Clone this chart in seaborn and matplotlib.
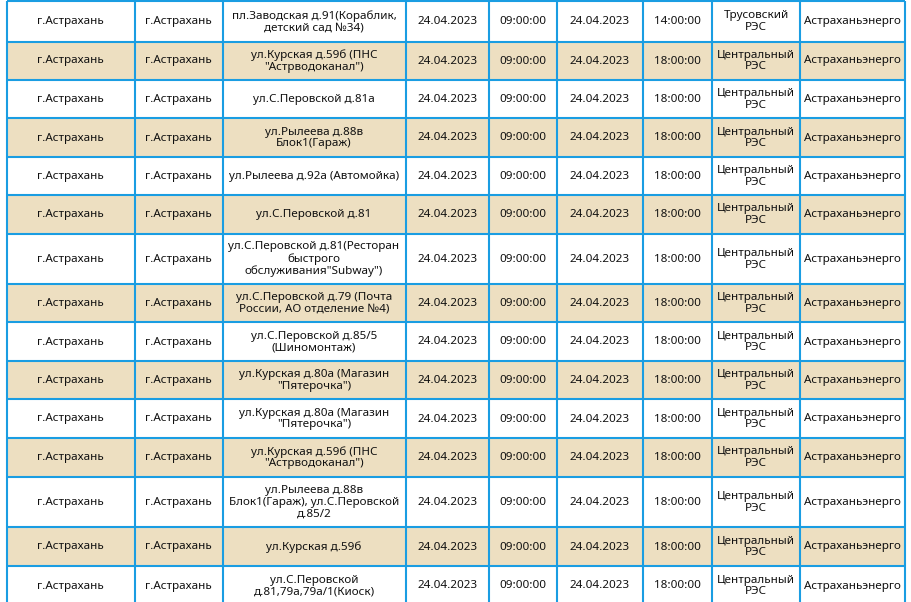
import matplotlib
matplotlib.use("Agg")
import matplotlib.pyplot as plt
from matplotlib.patches import Rectangle
import seaborn as sns

# table contents
regions = ["г.Астрахань"] * 15
cities = ["г.Астрахань"] * 15
addresses = [
    "пл.Заводская д.91(Кораблик,\nдетский сад №34)",
    "ул.Курская д.59б (ПНС\n\"Астрводоканал\")",
    "ул.С.Перовской д.81а",
    "ул.Рылеева д.88в\nБлок1(Гараж)",
    "ул.Рылеева д.92а (Автомойка)",
    "ул.С.Перовской д.81",
    "ул.С.Перовской д.81(Ресторан\nбыстрого\nобслуживания\"Subway\")",
    "ул.С.Перовской д.79 (Почта\nРоссии, АО отделение №4)",
    "ул.С.Перовской д.85/5\n(Шиномонтаж)",
    "ул.Курская д.80а (Магазин\n\"Пятерочка\")",
    "ул.Курская д.80а (Магазин\n\"Пятерочка\")",
    "ул.Курская д.59б (ПНС\n\"Астрводоканал\")",
    "ул.Рылеева д.88в\nБлок1(Гараж), ул.С.Перовской\nд.85/2",
    "ул.Курская д.59б",
    "ул.С.Перовской\nд.81,79а,79а/1(Киоск)",
]
start_dates = ["24.04.2023"] * 15
start_times = ["09:00:00"] * 15
end_dates = ["24.04.2023"] * 15
end_times = ["14:00:00"] + ["18:00:00"] * 14
res_units = ["Трусовский\nРЭС"] + ["Центральный\nРЭС"] * 14
companies = ["Астраханьэнерго"] * 15

columns = [regions, cities, addresses, start_dates, start_times,
           end_dates, end_times, res_units, companies]

# layout in pixels
col_edges = [7, 134.5, 222.5, 405.5, 489, 557, 643, 712, 800, 905]
row_edges = [1, 41.5, 79.5, 118.3, 156.7, 195.3, 233.5, 284, 322, 361,
             399, 438, 476.5, 527, 566, 605]

line_color = "#1a9de2"
stripe_color = "#eddfc1"
text_color = "#111111"

sns.set_style("white")
plt.rcParams['font.family'] = ['Noto Sans', 'DejaVu Sans']

fig = plt.figure(figsize=(9.11, 6.02), dpi=100)
ax = fig.add_axes([0, 0, 1, 1])
ax.set_xlim(0, 911)
ax.set_ylim(602, 0)
ax.axis("off")

n_rows = len(addresses)
for i in range(n_rows):
    y0, y1 = row_edges[i], row_edges[i + 1]
    if i % 2 == 1:
        ax.add_patch(Rectangle((col_edges[0], y0), col_edges[-1] - col_edges[0],
                               y1 - y0, facecolor=stripe_color, edgecolor="none"))
    for j, col in enumerate(columns):
        x0, x1 = col_edges[j], col_edges[j + 1]
        ax.text((x0 + x1) / 2, (y0 + y1) / 2 + 0.5, col[i], ha="center", va="center",
                multialignment="center", fontsize=8.4, color=text_color,
                linespacing=1.1, fontweight=500)

for x in col_edges:
    ax.plot([x, x], [row_edges[0], row_edges[-1]], color=line_color, lw=1.5,
            solid_capstyle="butt")
for y in row_edges:
    ax.plot([col_edges[0], col_edges[-1]], [y, y], color=line_color, lw=1.5,
            solid_capstyle="butt")

fig.savefig("out.png", dpi=100, facecolor="white")
